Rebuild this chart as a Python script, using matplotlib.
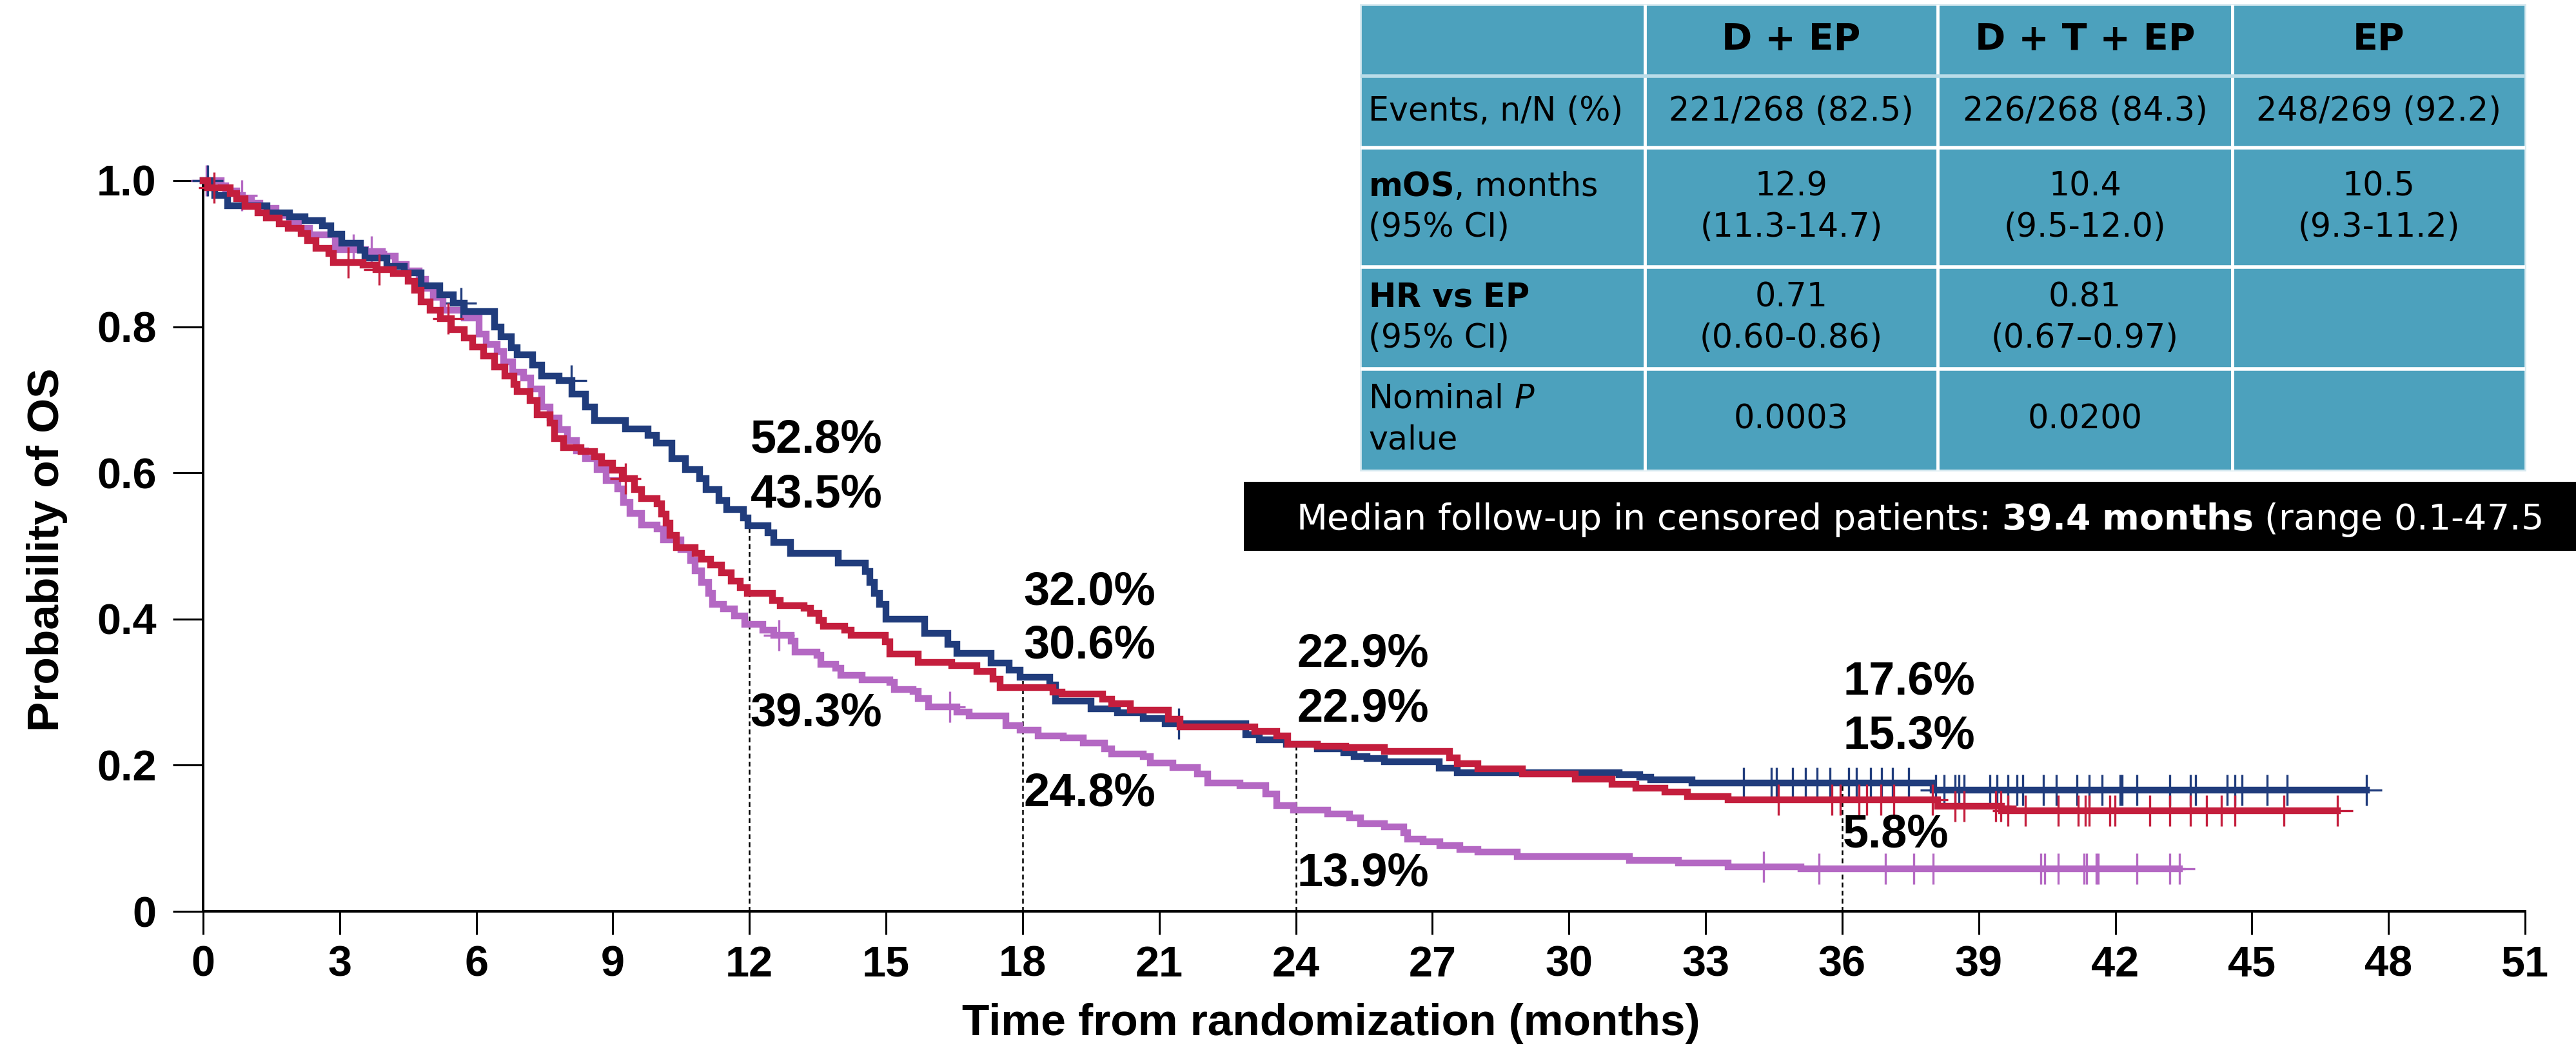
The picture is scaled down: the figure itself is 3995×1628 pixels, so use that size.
import numpy as np
import matplotlib
matplotlib.use("Agg")
import matplotlib.pyplot as plt
from matplotlib.patches import Rectangle

W, H, DPI = 3995, 1628, 100

plt.rcParams['mathtext.fontset'] = 'custom'
plt.rcParams['mathtext.rm'] = 'DejaVu Sans'
plt.rcParams['mathtext.bf'] = 'DejaVu Sans:bold'
plt.rcParams['mathtext.it'] = 'DejaVu Sans:italic'

# ---------------- Kaplan-Meier step data (months, survival after step) ----------------
dep_t = [0, 0.15, 0.26, 0.54, 1.40, 1.90, 2.24, 2.62, 2.80, 3.05, 3.45, 3.55, 4.04, 4.42, 4.79,
         5.20, 5.50, 5.74, 6.40, 6.54, 6.77, 6.90, 7.24, 7.44, 7.82, 8.10, 8.40, 8.60, 9.28, 9.77,
         9.95, 10.30, 10.60, 10.90, 11.05, 11.33, 11.50, 11.87, 11.97, 12.40, 12.54, 12.90, 13.95,
         14.55, 14.65, 14.75, 14.85, 15.00, 15.85, 16.36, 16.55, 17.30, 17.70, 17.95, 18.60, 18.72,
         19.50, 20.08, 20.65, 21.13, 22.90, 23.20, 23.80, 24.48, 25.05, 25.28, 25.57, 25.95, 27.15,
         27.55, 31.10, 31.56, 31.80, 32.70, 38.00]
dep_s = [1.000, 0.990, 0.980, 0.966, 0.956, 0.951, 0.945, 0.938, 0.927, 0.914, 0.905, 0.894, 0.883,
         0.874, 0.856, 0.844, 0.832, 0.821, 0.800, 0.786, 0.771, 0.762, 0.748, 0.733, 0.726, 0.708,
         0.690, 0.672, 0.660, 0.651, 0.641, 0.620, 0.605, 0.592, 0.577, 0.562, 0.550, 0.538, 0.528,
         0.518, 0.505, 0.490, 0.477, 0.465, 0.450, 0.435, 0.420, 0.400, 0.380, 0.365, 0.353, 0.340,
         0.330, 0.320, 0.310, 0.288, 0.277, 0.272, 0.264, 0.257, 0.242, 0.235, 0.229, 0.222, 0.217,
         0.212, 0.209, 0.205, 0.196, 0.190, 0.187, 0.184, 0.180, 0.176, 0.166]
dep_end = 47.51
dep_cens = [0.10, 5.67, 8.09, 21.43, 33.83, 34.44, 34.56, 34.91, 35.20, 35.45, 35.73, 36.14, 36.31,
            36.62, 36.87, 37.10, 37.46, 38.06, 38.24, 38.48, 38.56, 38.68, 39.24, 39.40, 39.64,
            39.84, 39.97, 40.42, 40.70, 41.15, 41.42, 41.71, 42.10, 42.15, 42.47, 43.20, 43.65,
            43.76, 44.46, 44.62, 44.78, 45.33, 45.78, 47.51]

dtep_t = [0, 0.10, 0.60, 0.73, 0.92, 1.20, 1.39, 1.67, 1.87, 2.15, 2.29, 2.48, 2.76, 2.86, 3.51,
          3.80, 4.18, 4.50, 4.65, 4.79, 4.98, 5.21, 5.45, 5.74, 5.92, 6.16, 6.40, 6.63, 6.83, 6.90,
          7.18, 7.34, 7.62, 7.72, 7.92, 8.30, 8.60, 8.75, 9.00, 9.20, 9.48, 9.63, 9.97, 10.07, 10.17,
          10.26, 10.40, 10.80, 10.95, 11.14, 11.39, 11.60, 11.80, 11.95, 12.50, 12.68, 13.20, 13.34,
          13.52, 13.62, 14.09, 14.23, 14.99, 15.08, 15.70, 16.45, 17.00, 17.35, 17.50, 18.67, 18.87,
          19.76, 19.95, 20.37, 21.20, 21.46, 23.10, 23.58, 23.82, 24.48, 25.10, 25.95, 27.37, 27.55,
          28.00, 28.97, 30.14, 30.95, 31.47, 32.10, 32.60, 33.50, 38.10, 39.50]
dtep_s = [1.000, 0.990, 0.982, 0.975, 0.965, 0.956, 0.949, 0.941, 0.935, 0.928, 0.918, 0.907, 0.900,
          0.888, 0.884, 0.878, 0.873, 0.862, 0.850, 0.834, 0.823, 0.811, 0.796, 0.785, 0.772, 0.760,
          0.745, 0.733, 0.721, 0.711, 0.699, 0.680, 0.668, 0.647, 0.635, 0.629, 0.622, 0.613, 0.604,
          0.592, 0.577, 0.565, 0.558, 0.544, 0.531, 0.515, 0.498, 0.490, 0.482, 0.474, 0.463, 0.452,
          0.443, 0.435, 0.425, 0.418, 0.415, 0.408, 0.398, 0.390, 0.385, 0.378, 0.369, 0.352, 0.341,
          0.336, 0.328, 0.318, 0.306, 0.300, 0.297, 0.290, 0.284, 0.275, 0.263, 0.252, 0.246, 0.240,
          0.229, 0.226, 0.224, 0.219, 0.210, 0.202, 0.195, 0.188, 0.181, 0.174, 0.169, 0.163, 0.157,
          0.153, 0.144, 0.138]
dtep_end = 46.88
dtep_cens = [0.24, 3.19, 3.86, 5.38, 9.28, 34.60, 35.77, 35.96, 36.37, 36.54, 36.85, 37.14, 37.98,
             38.48, 38.68, 39.37, 39.48, 39.64, 40.02, 40.74, 41.18, 41.34, 41.42, 41.88, 41.99,
             42.76, 43.20, 43.65, 44.01, 44.33, 44.62, 45.70, 46.88]

ep_t = [0, 0.40, 0.50, 0.73, 0.87, 1.06, 1.25, 1.60, 1.90, 2.10, 2.34, 2.90, 3.57, 3.94, 4.22, 4.46,
        4.75, 4.89, 5.05, 5.27, 5.74, 6.06, 6.22, 6.46, 6.60, 6.80, 7.04, 7.20, 7.44, 7.62, 7.82,
        8.00, 8.20, 8.40, 8.65, 8.85, 9.10, 9.24, 9.38, 9.63, 9.97, 10.11, 10.50, 10.70, 10.80, 10.95,
        11.10, 11.19, 11.43, 11.67, 11.90, 12.30, 12.54, 12.92, 13.00, 13.48, 13.57, 13.90, 14.00,
        14.47, 15.08, 15.18, 15.60, 15.70, 15.93, 16.55, 16.83, 17.63, 17.95, 18.34, 18.90, 19.33,
        19.80, 19.95, 20.65, 20.80, 21.30, 21.84, 22.07, 22.78, 23.34, 23.58, 23.95, 24.70, 25.18,
        25.42, 25.95, 26.37, 26.46, 26.80, 27.17, 27.60, 28.00, 28.87, 31.33, 32.40, 33.50, 35.10]
ep_s = [1.000, 0.993, 0.986, 0.980, 0.975, 0.969, 0.962, 0.952, 0.942, 0.935, 0.926, 0.906, 0.903,
        0.897, 0.885, 0.876, 0.865, 0.853, 0.840, 0.823, 0.812, 0.790, 0.776, 0.766, 0.752, 0.738,
        0.730, 0.715, 0.690, 0.675, 0.659, 0.644, 0.630, 0.620, 0.605, 0.590, 0.578, 0.560, 0.545,
        0.529, 0.523, 0.508, 0.495, 0.480, 0.466, 0.450, 0.435, 0.420, 0.414, 0.404, 0.393, 0.385,
        0.378, 0.370, 0.355, 0.350, 0.338, 0.333, 0.323, 0.317, 0.313, 0.304, 0.301, 0.291, 0.280,
        0.273, 0.267, 0.254, 0.248, 0.240, 0.237, 0.230, 0.222, 0.215, 0.212, 0.203, 0.197, 0.188,
        0.176, 0.172, 0.161, 0.145, 0.139, 0.133, 0.128, 0.120, 0.116, 0.108, 0.099, 0.095, 0.090,
        0.085, 0.081, 0.075, 0.070, 0.066, 0.061, 0.058]
ep_end = 43.41
ep_cens = [0.07, 0.85, 3.30, 3.70, 12.65, 16.40, 34.28, 35.49, 36.95, 37.58, 38.00, 40.37, 40.45,
           40.74, 41.31, 41.37, 41.58, 41.62, 42.47, 43.20, 43.41]

# landmark survival (%) and where each label sits vertically
landmark_months = [12, 18, 24, 36]
dep_landmark = [52.8, 32.0, 22.9, 17.6]
dtep_landmark = [43.5, 30.6, 22.9, 15.3]
ep_landmark = [39.3, 24.8, 13.9, 5.8]
label_y = {12: [0.628, 0.553, 0.254], 18: [0.420, 0.346, 0.144],
           24: [0.335, 0.260, 0.035], 36: [0.297, 0.223, 0.088]}

x_ticks = list(range(0, 52, 3))
y_ticks = [0, 0.2, 0.4, 0.6, 0.8, 1.0]
y_ticklabels = ['0', '0.2', '0.4', '0.6', '0.8', '1.0']

# summary table contents
table_header = ['D + EP', 'D + T + EP', 'EP']
table_rows = [
    (['Events, n/N (%)'], ['221/268 (82.5)'], ['226/268 (84.3)'], ['248/269 (92.2)']),
    ([r'$\mathbf{mOS}$, months', '(95% CI)'], ['12.9', '(11.3-14.7)'], ['10.4', '(9.5-12.0)'],
     ['10.5', '(9.3-11.2)']),
    ([r'$\mathbf{HR\ vs\ EP}$', '(95% CI)'], ['0.71', '(0.60-0.86)'], ['0.81', '(0.67\u20130.97)'], []),
    ([r'Nominal $\mathit{P}$', 'value'], ['0.0003'], ['0.0200'], []),
]
followup_text = (r'Median follow-up in censored patients: $\mathbf{39.4\ months}$'
                 ' (range 0.1-47.5')

C_DEP = '#203C7C'
C_DTEP = '#C41E3D'
C_EP = '#B468C3'
TEAL = '#4CA1BD'

TICK_FONT = dict(family='Liberation Sans', weight='bold')


def step_value(t, s, x):
    idx = np.searchsorted(np.asarray(t), x, side='right') - 1
    return np.asarray(s)[idx]


fig = plt.figure(figsize=(W / DPI, H / DPI), dpi=DPI)
ax = fig.add_axes([315 / W, 1 - 1413 / H, (3916 - 315) / W, (1413 - 280) / H])
ax.set_xlim(0, 51)
ax.set_ylim(0, 1.0)

arms = [(ep_t, ep_s, ep_end, ep_cens, C_EP),
        (dep_t, dep_s, dep_end, dep_cens, C_DEP),
        (dtep_t, dtep_s, dtep_end, dtep_cens, C_DTEP)]
for i, (t, s, t_end, cens, col) in enumerate(arms):
    tt = np.r_[t, t_end]
    ss = np.r_[s, s[-1]]
    ax.step(tt, ss, where='post', color=col, lw=7.5, clip_on=False, zorder=3 + i,
            solid_joinstyle='miter')
    cy = step_value(t, s, np.asarray(cens))
    ax.plot(cens, cy, ls='none', marker='+', ms=34, mew=2.4, color=col, clip_on=False,
            zorder=3 + i)

# dashed landmark guides and percentage labels
for k, m in enumerate(landmark_months):
    top = max(dep_landmark[k], dtep_landmark[k], ep_landmark[k]) / 100
    ax.vlines(m, 0, top, colors='black', linestyles=(0, (3, 2)), lw=1.8, zorder=2)
    vals = [dep_landmark[k], dtep_landmark[k], ep_landmark[k]]
    for v, yy in zip(vals, label_y[m]):
        ax.text(m + 0.02, yy, f'{v:.1f}%', ha='left', va='baseline', fontsize=52,
                color='black', zorder=8, **TICK_FONT)

for side in ['top', 'right']:
    ax.spines[side].set_visible(False)
for side in ['left', 'bottom']:
    ax.spines[side].set_linewidth(2.8)
ax.set_xticks(x_ticks)
ax.set_xticklabels([str(v) for v in x_ticks])
ax.set_yticks(y_ticks)
ax.set_yticklabels(y_ticklabels)
ax.tick_params(axis='x', length=26, width=2.2, pad=12)
ax.tick_params(axis='y', length=34, width=2.2, pad=18)
for lab in ax.get_xticklabels() + ax.get_yticklabels():
    lab.set_fontfamily('Liberation Sans')
    lab.set_fontweight('bold')
    lab.set_fontsize(48)

fig.text(2064 / W, 1 - 1605 / H, 'Time from randomization (months)', ha='center',
         va='baseline', fontsize=50, **TICK_FONT)
fig.text(73 / W, 1 - 852 / H, 'Probability of OS', ha='center', va='center', rotation=90,
         fontsize=50, **TICK_FONT)

# overlay in pixel coordinates for the table and the follow-up banner
ov = fig.add_axes([0, 0, 1, 1], zorder=10)
ov.set_xlim(0, W)
ov.set_ylim(H, 0)
ov.axis('off')
ov.patch.set_visible(False)

col_edges = [2110, 2551, 3005, 3462, 3916]
row_edges = [7, 118, 229, 414, 572, 729]
ov.add_patch(Rectangle((col_edges[0], row_edges[0]), col_edges[-1] - col_edges[0],
                       row_edges[-1] - row_edges[0], fc=TEAL, ec='#D6E9F0', lw=2))
for x in col_edges[1:-1]:
    ov.plot([x, x], [row_edges[0], row_edges[-1]], color='white', lw=3.5, solid_capstyle='butt')
for j, y in enumerate(row_edges[1:-1]):
    ov.plot([col_edges[0], col_edges[-1]], [y, y], color='#B9DCE8' if j == 0 else 'white',
            lw=4, solid_capstyle='butt')

col_centers = [(col_edges[i] + col_edges[i + 1]) / 2 for i in range(4)]
header_y = (row_edges[0] + row_edges[1]) / 2
for c, txt in zip(col_centers[1:], table_header):
    ov.text(c, header_y, txt, ha='center', va='center', fontsize=41, fontweight='bold',
            family='DejaVu Sans', color='black')

line_gap = 64
for r, row in enumerate(table_rows):
    yc = (row_edges[r + 1] + row_edges[r + 2]) / 2
    for ci, lines in enumerate(row):
        n = len(lines)
        for li, txt in enumerate(lines):
            yy = yc + (li - (n - 1) / 2) * line_gap
            if ci == 0:
                ov.text(2122, yy, txt, ha='left', va='center', fontsize=36.5,
                        family='DejaVu Sans', color='black')
            else:
                ov.text(col_centers[ci], yy, txt, ha='center', va='center', fontsize=36.5,
                        family='DejaVu Sans', color='black')

ov.add_patch(Rectangle((1929, 747), W - 1929 + 20, 107, fc='black', ec='none', clip_on=False))
ov.text(2010, 821, followup_text, ha='left', va='baseline', fontsize=40, color='white',
        family='DejaVu Sans')

fig.savefig('out.png', dpi=DPI)
